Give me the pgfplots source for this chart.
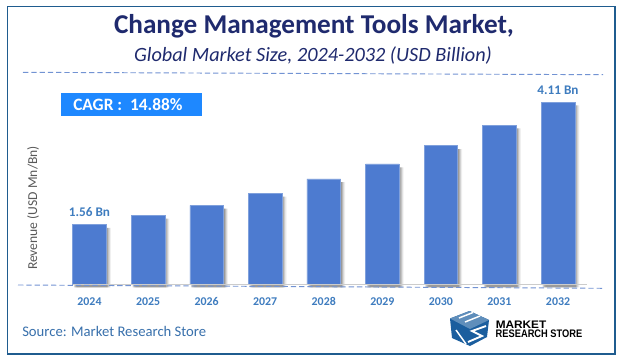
\documentclass[border=0pt]{standalone}
\usepackage{pgfplots}
\pgfplotsset{compat=1.18}
\usepackage{pgfplotstable}
\usepackage{fontspec}
\setmainfont{Carlito}
\newfontfamily\logofont{Liberation Sans}
\definecolor{barblue}{HTML}{4D7BD0}
\definecolor{baredge}{HTML}{7FA0DC}
\definecolor{titlenavy}{HTML}{1F2A6E}
\definecolor{framec}{HTML}{1F5C8F}
\definecolor{labc}{HTML}{3E7CBF}
\definecolor{dashc}{HTML}{4F78C8}
\definecolor{logoB}{HTML}{1B5E9E}
\definecolor{cagrc}{HTML}{1E88FF}
\pgfplotstableread{
x y
0 1.56
1 1.75
2 1.96
3 2.21
4 2.51
5 2.82
6 3.20
7 3.63
8 4.11
}\sizes
\begin{document}
\begin{tikzpicture}[x=0.75pt,y=-0.75pt]
\fill[white] (0,0) rectangle (623,360);
\draw[framec,line width=0.9pt] (7.5,6.5) rectangle (615,354);
\node[text=titlenavy,font=\fontsize{20.4pt}{24pt}\bfseries\selectfont] at (314,26) {Change Management Tools Market,};
\node[text=titlenavy,font=\fontsize{15.2pt}{18pt}\itshape\selectfont] at (313,55) {Global Market Size, 2024-2032 (USD Billion)};
\draw[dashc!80!white,line width=0.7pt,dash pattern=on 4pt off 2.2pt] (23,72.3) -- (603,74.7);
\fill[cagrc] (61,93) rectangle (202,116);
\node[text=white,font=\fontsize{13pt}{15pt}\bfseries\selectfont,anchor=west,inner sep=0pt] at (73,105) {CAGR :\ \ 14.88\%};
\begin{axis}[
  at={(30pt,-213pt)},anchor=south west,
  scale only axis,width=420pt,height=156.75pt,
  xmin=-0.845,xmax=8.717,ymin=0.32,ymax=4.674,
  axis line style={draw=none},
  ymajorticks=false,
  xtick=data,
  xticklabels={2024,2025,2026,2027,2028,2029,2030,2031,2032},
  xtick style={draw=none},
  xticklabel style={font=\fontsize{8.9pt}{11pt}\bfseries\selectfont,text=labc,yshift=-2pt,text height=6pt,text depth=0pt},
  ylabel={Revenue (USD Mn/Bn)},
  ylabel style={at={(axis description cs:-0.0125,0.364)},anchor=center,font=\fontsize{10.2pt}{11pt}\selectfont,text=black!65},
  clip mode=individual,
  ybar,bar width=25.2pt,
]
\addplot[fill=black,draw=none,opacity=.16,bar shift=1.0pt,yshift=-2.5pt,forget plot] table[x=x,y=y]{\sizes};
\addplot[fill=black,draw=none,opacity=.14,bar shift=1.8pt,yshift=-2.5pt,forget plot] table[x=x,y=y]{\sizes};
\addplot[fill=black,draw=none,opacity=.10,bar shift=2.6pt,yshift=-2.5pt,forget plot] table[x=x,y=y]{\sizes};
\addplot[fill=black,draw=none,opacity=.06,bar shift=3.4pt,yshift=-2.5pt,forget plot] table[x=x,y=y]{\sizes};
\addplot[fill=barblue,draw=baredge,line width=0.4pt,bar shift=0pt] table[x=x,y=y]{\sizes};
\node[font=\fontsize{9.9pt}{11pt}\bfseries\selectfont,text=labc,anchor=south,inner sep=0pt] at (axis cs:0,1.56) [yshift=5.6pt] {1.56 Bn};
\node[font=\fontsize{9.9pt}{11pt}\bfseries\selectfont,text=labc,anchor=south,inner sep=0pt] at (axis cs:8,4.11) [yshift=5.2pt] {4.11 Bn};
\end{axis}
\draw[black!20,line width=0.7pt] (73,284.6) -- (587,284.6);
\draw[dashc!80!white,line width=0.7pt,dash pattern=on 4pt off 2.2pt] (18,285) -- (604,288.3);
\node[text=labc!90!black,font=\fontsize{11pt}{14pt}\selectfont,anchor=west,inner sep=0pt] at (22,331) {Source: Market Research Store};
% logo
\fill[logoB] (450,318.5) -- (469.5,311) -- (489,320) -- (487,337) -- (470,346) -- (452,338) -- cycle;
\fill[logoB!70!white] (450,318.5) -- (469.5,311) -- (489,320) -- (470,329) -- cycle;
\draw[white,line width=1.1pt] (459,318) -- (473,312.5) (465,322) -- (480,316);
\draw[white,line width=1.4pt] (486,326) -- (472,331) -- (482,336) -- (468,342);
\draw[white,line width=1.1pt] (456,330) -- (466,344);
\node[text=black,font=\logofont\fontsize{8.2pt}{8.2pt}\bfseries\selectfont,anchor=west,inner sep=0pt,xscale=1.08] at (495.5,324.5) {MARKET};
\node[text=black,font=\logofont\fontsize{8.2pt}{8.2pt}\bfseries\selectfont,anchor=west,inner sep=0pt,xscale=0.85] at (495.5,333.5) {RESEARCH STORE};
\end{tikzpicture}
\end{document}
